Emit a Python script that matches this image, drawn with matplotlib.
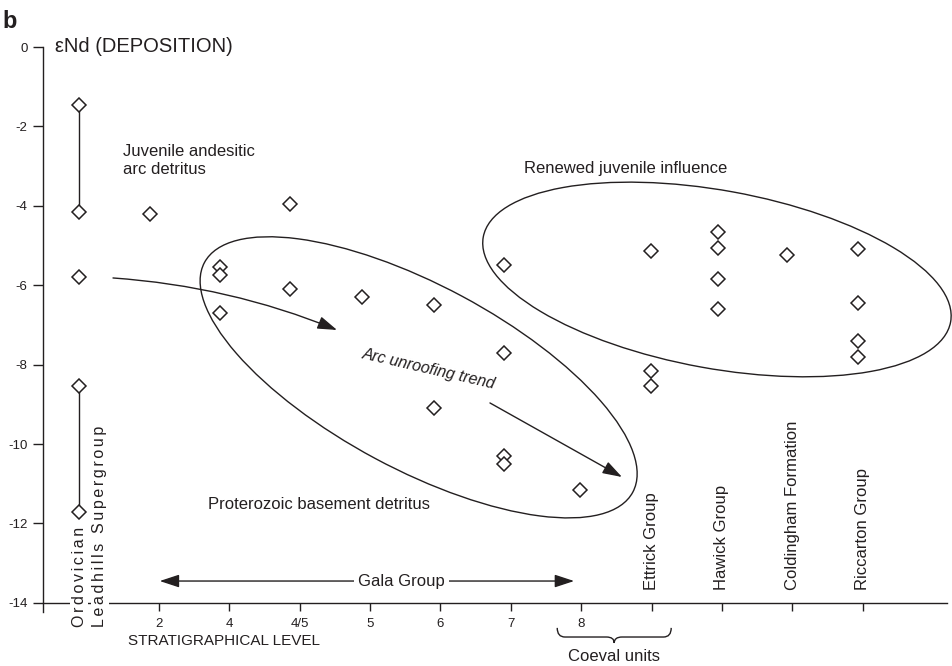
import numpy as np
import matplotlib.pyplot as plt
from matplotlib.patches import Ellipse, PathPatch
from matplotlib.path import Path
from matplotlib.transforms import ScaledTranslation

plt.rcParams['font.family'] = ['Liberation Sans', 'DejaVu Sans']
plt.rcParams['axes.unicode_minus'] = False

INK = '#231f20'

# stratigraphical levels along the x axis (tick positions 1..11)
level_ticks = [1, 2, 3, 4, 5, 6, 7, 8, 9, 10, 11]
level_labels = ['2', '4', '4/5', '5', '6', '7', '8', '', '', '', '']
unit_ticks = [8, 9, 10, 11]
unit_names = ['Ettrick Group', 'Hawick Group', 'Coldingham Formation', 'Riccarton Group']

# eNd at deposition, grouped by the column they are plotted in
group_x = [-0.14, 0.87, 1.87, 2.86, 3.88, 4.91, 5.90, 6.99, 7.99, 8.94, 9.93, 10.94]
group_end = [
    [-1.45, -4.15, -5.8, -8.55, -11.7],   # Ordovician Leadhills Supergroup
    [-4.2],
    [-5.55, -5.75, -6.7],
    [-3.95, -6.1],
    [-6.3],
    [-6.5, -9.1],
    [-5.5, -7.7, -10.3, -10.5],
    [-11.15],
    [-5.15, -8.15, -8.55],                # Ettrick
    [-4.65, -5.05, -5.85, -6.6],          # Hawick
    [-5.25],                              # Coldingham
    [-5.1, -6.45, -7.4, -7.8],            # Riccarton
]
# ranges drawn as bars for the Ordovician samples
ordovician_ranges = [(-1.45, -4.15), (-8.55, -11.7)]

y_ticks = [0, -2, -4, -6, -8, -10, -12, -14]

fig = plt.figure(figsize=(9.52, 6.66), dpi=100)
ax = fig.add_axes([43 / 952, 54 / 666, 904 / 952, 565 / 666])
ax.set_xlim(-0.649, 12.2)
ax.set_ylim(-14.23, 0)

for s in ['top', 'right']:
    ax.spines[s].set_visible(False)
ax.spines['bottom'].set_position(('data', -14))
for s in ['left', 'bottom']:
    ax.spines[s].set_color(INK)
    ax.spines[s].set_linewidth(1.0)

ax.set_xticks(level_ticks)
ax.set_xticklabels(level_labels)
ax.set_yticks(y_ticks)
ax.set_yticklabels([str(v) for v in y_ticks])
ax.tick_params(axis='x', direction='out', length=6, width=1.0, color=INK,
               labelsize=9.5, labelcolor=INK, pad=5)
ax.tick_params(axis='y', direction='out', length=7, width=1.0, color=INK,
               labelsize=9.5, labelcolor=INK, pad=4)

# range bars and samples
for lo, hi in ordovician_ranges:
    ax.plot([group_x[0], group_x[0]], [lo, hi], color=INK, lw=1.0, zorder=3)
for x, vals in zip(group_x, group_end):
    ax.plot([x] * len(vals), vals, linestyle='none', marker='D', ms=7,
            mfc='white', mec=INK, mew=1.1, zorder=4)

# ellipses drawn in inches around a data-space centre
def ring(cx, cy, w, h, angle):
    tr = fig.dpi_scale_trans + ScaledTranslation(cx, cy, ax.transData)
    e = Ellipse((0, 0), w, h, angle=angle, transform=tr, fill=False,
                ec=INK, lw=1.0, clip_on=False, zorder=2)
    ax.add_patch(e)

ring(4.69, -8.32, 4.86, 1.84, -28.2)
ring(8.93, -5.855, 4.75, 1.78, -10.3)

# trend arrows
arrow_kw = dict(arrowstyle='-|>,head_length=0.85,head_width=0.28', color=INK, lw=1.0,
                shrinkA=0, shrinkB=0, mutation_scale=14)
ax.annotate('', xy=(3.53, -7.127), xytext=(0.346, -5.817),
            arrowprops=dict(connectionstyle='arc3,rad=-0.08', **arrow_kw))
ax.annotate('', xy=(7.58, -10.83), xytext=(5.704, -8.965), arrowprops=arrow_kw)

# Gala Group span
gala_kw = dict(arrow_kw)
gala_kw['arrowstyle'] = '<|-|>,head_length=0.85,head_width=0.28'
ax.annotate('', xy=(1.01, -13.45), xytext=(6.90, -13.45), arrowprops=gala_kw)
ax.text(4.45, -13.45, 'Gala Group', ha='center', va='center', fontsize=12, color=INK,
        bbox=dict(fc='white', ec='none', pad=3), zorder=5)

txt = dict(fontsize=12, color=INK)
ax.text(0.488, -2.86, 'Juvenile andesitic\narc detritus', ha='left', va='center',
        linespacing=1.25, **txt)
ax.text(3.28, -11.51, 'Proterozoic basement detritus', ha='center', va='center', **txt)
ax.text(7.63, -3.07, 'Renewed juvenile influence', ha='center', va='center', **txt)
ax.text(4.84, -8.11, 'Arc unroofing trend', ha='center', va='center', rotation=-13,
        rotation_mode='anchor', style='italic', fontsize=11.5, color=INK)

for x, name in zip(unit_ticks, unit_names):
    ax.text(x, -13.67, name, rotation=90, ha='center', va='bottom', **txt)

# Ordovician column label, letter-spaced, sitting over the axis line
def spaced(s):
    return '\u2006'.join(s)

for x, line in [(-0.137, 'Ordovician'), (0.161, 'Leadhills Supergroup')]:
    ax.text(x, -14.6, spaced(line), rotation=90, ha='center', va='bottom',
            fontsize=11.5, color=INK, bbox=dict(fc='white', ec='none', pad=1.0),
            clip_on=False, zorder=5)

ax.text(0.56, -14.96, 'STRATIGRAPHICAL LEVEL', ha='left', va='center',
        fontsize=11, color=INK, clip_on=False)
ax.text(-0.478, 0, '\u03b5Nd (DEPOSITION)', ha='left', va='center',
        fontsize=14.5, color=INK, clip_on=False)

# brace under the coeval units
x0, x1, xm, r = 6.66, 8.28, 7.47, 0.11
ytop, ymid, ybot = -14.63, -14.86, -15.01
verts = [(x0, ytop), (x0, ymid), (x0 + r, ymid), (xm - r, ymid), (xm, ymid), (xm, ybot),
         (xm, ymid), (xm + r, ymid), (x1 - r, ymid), (x1, ymid), (x1, ytop)]
codes = [Path.MOVETO, Path.CURVE3, Path.CURVE3, Path.LINETO, Path.CURVE3, Path.CURVE3,
         Path.CURVE3, Path.CURVE3, Path.LINETO, Path.CURVE3, Path.CURVE3]
ax.add_patch(PathPatch(Path(verts, codes), fill=False, ec=INK, lw=1.0, clip_on=False))
ax.text(xm, -15.36, 'Coeval units', ha='center', va='center', clip_on=False, **txt)

fig.text(0.003, 1 - 10 / 666, 'b', ha='left', va='top', fontsize=17,
         fontweight='bold', color=INK)

fig.savefig('out.png', dpi=100, facecolor='white')
